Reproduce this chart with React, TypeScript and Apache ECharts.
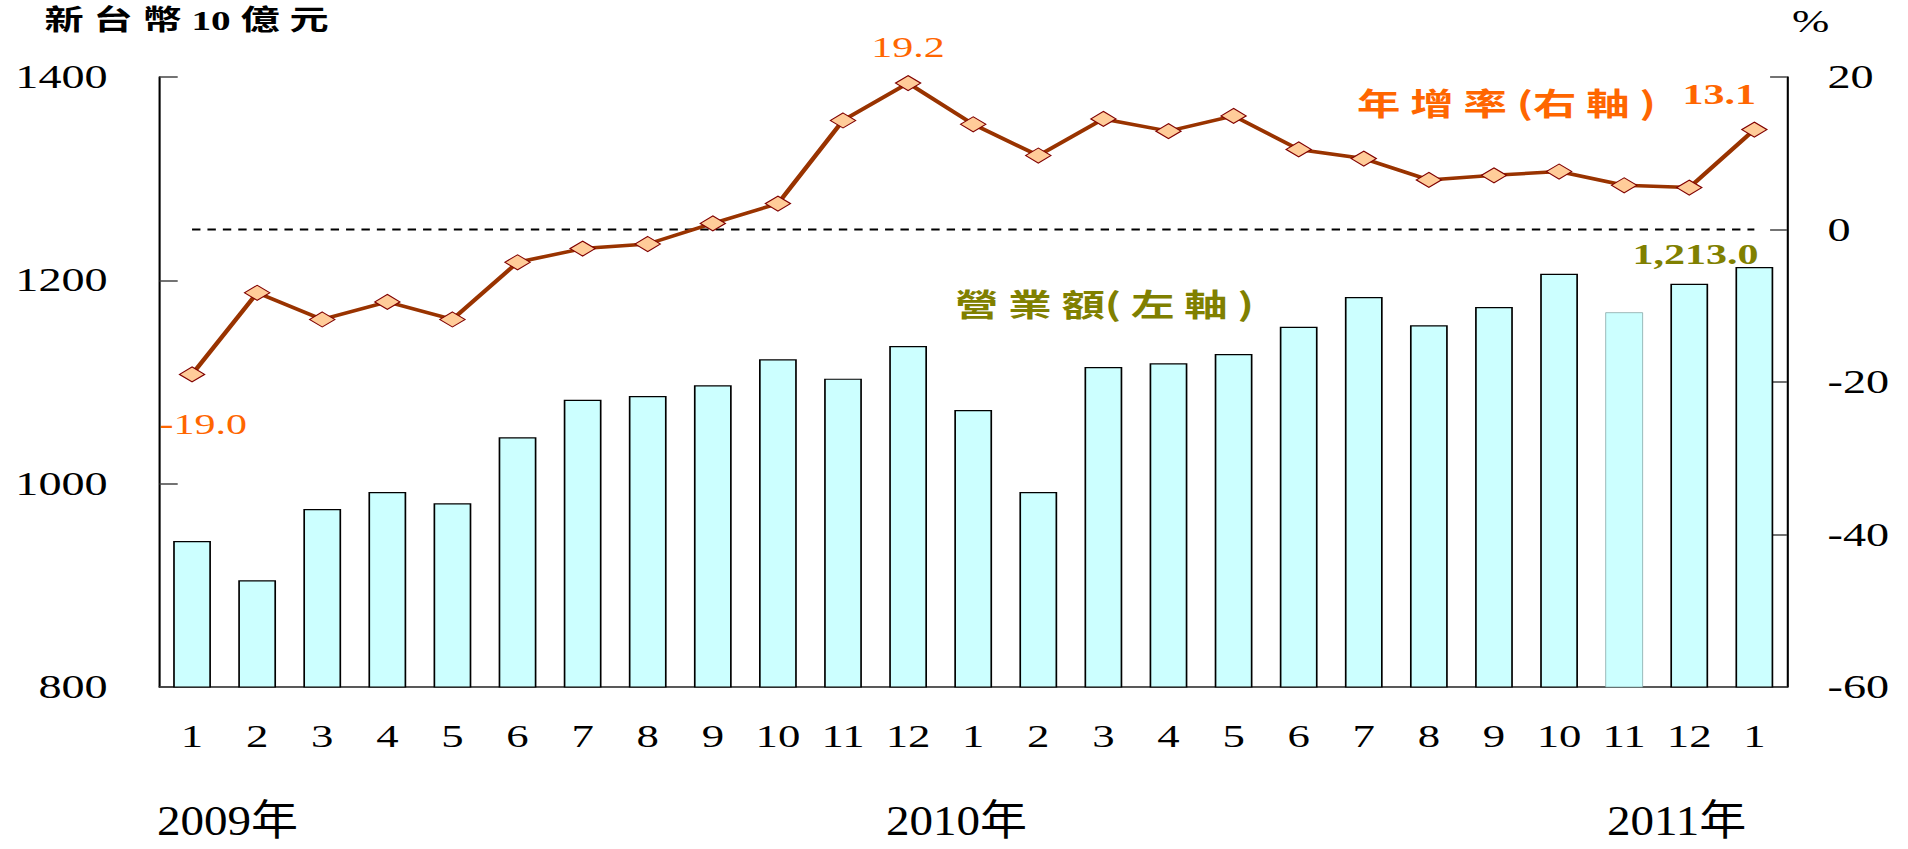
import React, { useEffect, useRef } from "react";
import * as echarts from "echarts";

// ---- data ----
const categories = ["1", "2", "3", "4", "5", "6", "7", "8", "9", "10", "11", "12", "1", "2", "3", "4", "5", "6", "7", "8", "9", "10", "11", "12", "1"];
const sales = [943.6, 905.0, 975.1, 991.8, 980.7, 1045.6, 1082.6, 1086.2, 1096.7, 1122.3, 1103.3, 1135.4, 1072.4, 991.8, 1114.8, 1118.4, 1127.5, 1154.4, 1183.6, 1155.8, 1173.8, 1206.5, 1168.5, 1196.7, 1213.0];
const growth = [-19.0, -8.3, -11.8, -9.5, -11.8, -4.3, -2.5, -1.9, 0.8, 3.4, 14.3, 19.2, 13.8, 9.7, 14.5, 12.9, 14.9, 10.5, 9.3, 6.5, 7.1, 7.6, 5.8, 5.5, 13.1];
// dashed reference line at 0 % (right axis)
const zeroLine = [0, 0, 0, 0, 0, 0, 0, 0, 0, 0, 0, 0, 0, 0, 0, 0, 0, 0, 0, 0, 0, 0, 0, 0, 0];
const yearLabels = ["2009年", "2010年", "2011年"];
const leftTicks = { min: 800, max: 1400, interval: 200 };
const rightTicks = { min: -60, max: 20, interval: 20 };

// ---- layout (the reference is horizontally stretched) ----
const S = 1.4;
const W = 1908 / S;
const H = 849;
const SERIF = "'Liberation Serif', 'Times New Roman', serif";
const CJK = "'Liberation Serif', 'Noto Sans CJK TC', serif";
const NB = "\u00A0";

export default function App() {
  const ref = useRef<HTMLDivElement>(null);
  useEffect(() => {
    document.body.style.margin = "0";
    document.body.style.overflow = "hidden";
    const chart = echarts.init(ref.current!, null, { renderer: "svg" });

    const barData = sales.map((v, i) => {
      const item: any = { value: v };
      if (i === 22) item.itemStyle = { borderColor: "#7f9f9f", borderWidth: 0.6 };
      if (i === sales.length - 1) {
        item.label = {
          show: true,
          position: "top",
          distance: 0,
          offset: [-42, 2],
          color: "#808000",
          fontSize: 30,
          fontWeight: "bold",
          fontFamily: SERIF,
          formatter: (p: any) =>
            Number(p.value).toLocaleString("en-US", { minimumFractionDigits: 1, maximumFractionDigits: 1 }),
        };
      }
      return item;
    });

    const lineLabelBase = {
      show: true,
      color: "#FF6600",
      fontSize: 30,
      fontFamily: SERIF,
      formatter: (p: any) => Number(p.value).toFixed(1),
    };
    const lineData = growth.map((v, i) => {
      const item: any = { value: v };
      if (i === 0) item.label = { ...lineLabelBase, position: "bottom", distance: 26, offset: [8, 0] };
      if (i === 11) item.label = { ...lineLabelBase, position: "top", distance: 13 };
      if (i === growth.length - 1)
        item.label = { ...lineLabelBase, position: "top", distance: 13, offset: [-25, 0], fontWeight: "bold" };
      return item;
    });

    const yearX = [157, 886, 1607];

    const option: any = {
      animation: false,
      backgroundColor: "#ffffff",
      grid: { left: 159.5 / S, right: W - 1786.7 / S, top: 77, bottom: H - 687 },
      xAxis: {
        type: "category",
        data: categories,
        boundaryGap: true,
        axisTick: { show: false },
        axisLine: { show: true, onZero: false, lineStyle: { color: "#222", width: 1.5 } },
        axisLabel: { interval: 0, color: "#000", fontSize: 32, fontFamily: SERIF, margin: 33 },
        splitLine: { show: false },
      },
      yAxis: [
        {
          type: "value",
          position: "left",
          ...leftTicks,
          axisLine: { show: true, lineStyle: { color: "#000", width: 1.5 } },
          axisTick: { show: true, inside: true, length: 13, lineStyle: { color: "#444", width: 1.5 } },
          axisLabel: {
            color: "#000",
            fontSize: 33,
            fontFamily: SERIF,
            margin: 37,
            formatter: (v: number) => String(v),
          },
          splitLine: { show: false },
        },
        {
          type: "value",
          position: "right",
          ...rightTicks,
          axisLine: { show: true, lineStyle: { color: "#000", width: 1.5 } },
          axisTick: { show: true, inside: true, length: 12, lineStyle: { color: "#444", width: 1.5 } },
          axisLabel: {
            color: "#000",
            fontSize: 33,
            fontFamily: SERIF,
            margin: 29,
            formatter: (v: number) => String(v),
          },
          splitLine: { show: false },
        },
      ],
      series: [
        {
          type: "bar",
          yAxisIndex: 0,
          data: barData,
          barWidth: 27,
          itemStyle: { color: "#CCFFFF", borderColor: "#000", borderWidth: 1.2 },
          z: 2,
        },
        {
          type: "line",
          yAxisIndex: 1,
          data: zeroLine,
          symbol: "none",
          silent: true,
          lineStyle: { color: "#000", width: 2, type: [6, 5] },
          z: 3,
        },
        {
          type: "line",
          yAxisIndex: 1,
          data: lineData,
          symbol: "diamond",
          symbolSize: [18, 15],
          lineStyle: { color: "#993300", width: 3.5 },
          itemStyle: { color: "#FFCC99", borderColor: "#800000", borderWidth: 1 },
          z: 5,
        },
      ],
      graphic: [
        {
          type: "text",
          x: 44.6 / S,
          y: 21,
          style: {
            text: `新${NB}台${NB}幣${NB}10${NB}億${NB}元`,
            fontSize: 28,
            fontWeight: "bold",
            fontFamily: CJK,
            fill: "#000",
            verticalAlign: "middle",
          },
        },
        {
          type: "text",
          x: 1792 / S,
          y: 21,
          style: { text: "%", fontSize: 32, fontFamily: SERIF, fill: "#000", verticalAlign: "middle" },
        },
        {
          type: "text",
          x: 1357 / S,
          y: 101.5,
          style: {
            text: `年${NB}增${NB}率${NB}(右${NB}軸${NB})`,
            fontSize: 31,
            fontWeight: "bold",
            fontFamily: "'Noto Sans CJK TC', sans-serif",
            fill: "#FF6600",
            verticalAlign: "middle",
          },
        },
        {
          type: "text",
          x: 955 / S,
          y: 302,
          style: {
            text: `營${NB}業${NB}額(${NB}左${NB}軸${NB})`,
            fontSize: 31,
            fontWeight: "bold",
            fontFamily: "'Noto Sans CJK TC', sans-serif",
            fill: "#808000",
            verticalAlign: "middle",
          },
        },
        ...yearLabels.map((t, i) => ({
          type: "text",
          x: yearX[i] / S,
          y: 821,
          scaleX: 0.8,
          style: { text: t, fontSize: 42, fontFamily: CJK, fill: "#000", verticalAlign: "middle" },
        })),
      ],
    };

    chart.setOption(option);
    return () => chart.dispose();
  }, []);

  return (
    <div
      ref={ref}
      style={{
        position: "absolute",
        left: 0,
        top: 0,
        width: W,
        height: H,
        transform: `scaleX(${S})`,
        transformOrigin: "0 0",
        background: "#fff",
      }}
    />
  );
}
